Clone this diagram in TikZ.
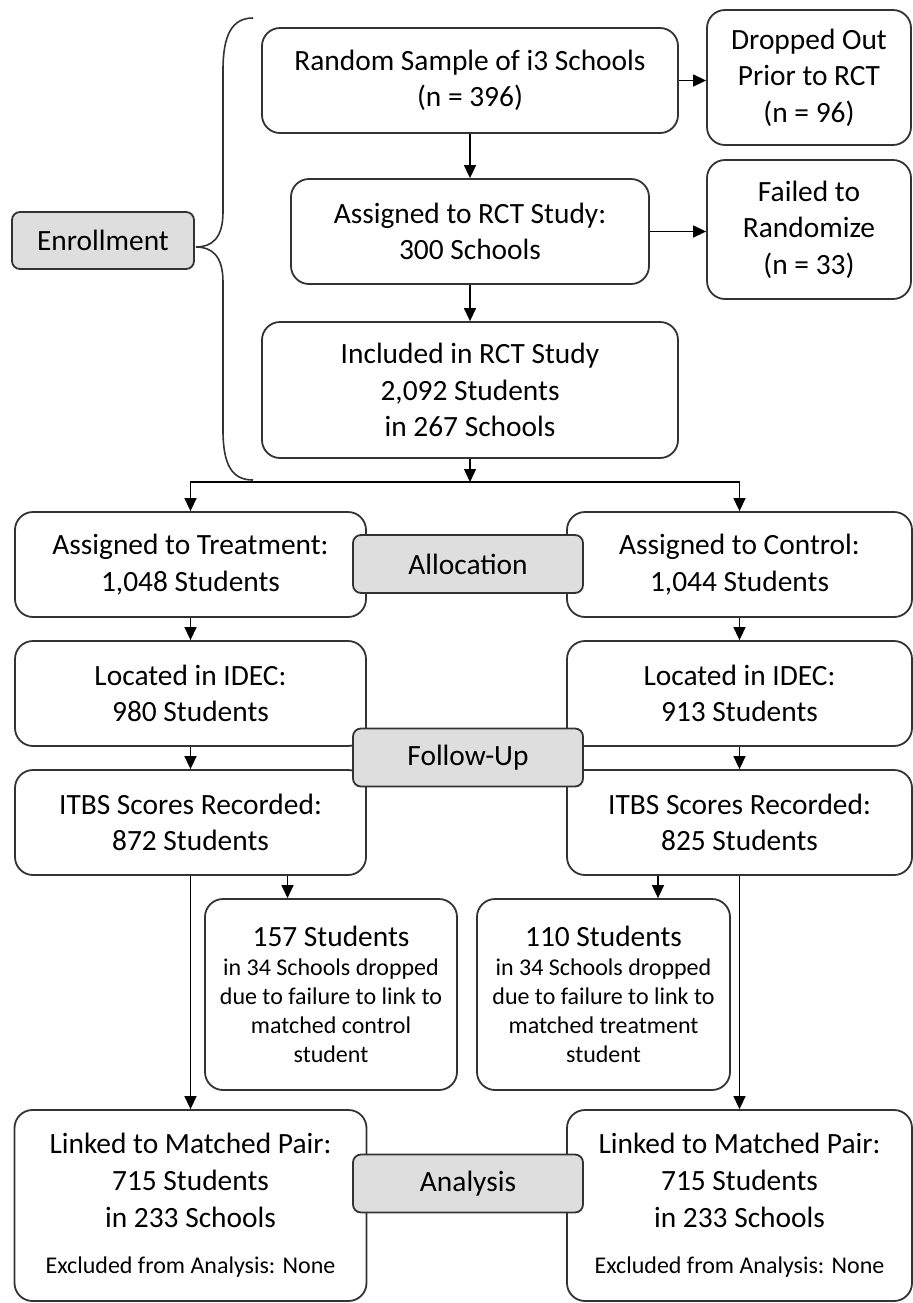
\documentclass[tikz,border=0pt]{standalone}
\usepackage{fontspec}
\setmainfont{Carlito}
\usetikzlibrary{arrows.meta,positioning,calc}

\begin{document}
\begin{tikzpicture}[x=0.5pt,y=-0.5pt,
  box/.style={draw=black!80,line width=0.9pt,rounded corners=9pt,align=center,inner sep=0pt,font=\fontsize{14.7}{18.3}\selectfont},
  phase/.style={draw=black!80,line width=0.9pt,rounded corners=4pt,fill=black!13,inner sep=0pt,font=\fontsize{14.7}{18.3}\selectfont,minimum width=115pt,minimum height=29pt},
  small/.style={font=\fontsize{12}{14.5}\selectfont},
  flow/.style={line width=0.7pt,-{Triangle[length=6.5pt,width=6pt]}}]
\useasboundingbox (0,0) rectangle (912,1303);

% enrollment
\node[box,minimum width=208pt,minimum height=52.5pt] (rand) at (470,80.5) {Random Sample of i3 Schools\\(n = 396)};
\node[box,minimum width=102pt,minimum height=67.5pt] (drop) at (809,77.5) {Dropped Out\\Prior to RCT\\(n = 96)};
\node[box,minimum width=179pt,minimum height=52.5pt] (rct) at (470,231.5) {Assigned to RCT Study:\\300 Schools};
\node[box,minimum width=102pt,minimum height=69.5pt] (fail) at (809,229.5) {Failed to\\Randomize\\(n = 33)};
\node[box,minimum width=208pt,minimum height=68pt] (incl) at (470,390) {Included in RCT Study\\2,092 Students\\in 267 Schools};
\draw[line width=0.8pt,black!80] (253,18) .. controls (232,18) and (223,35) .. (223,70) -- (223,212)
  .. controls (223,238) and (212,247) .. (196,247) .. controls (212,247) and (223,256) .. (223,282)
  -- (223,430) .. controls (223,465) and (232,480) .. (253,480);

\draw[flow] (rand.east) -- (rand.east -| drop.west);
\draw[flow] (rct.east) -- (rct.east -| fail.west);
\draw[flow] (rand.south) -- (rct.north);
\draw[flow] (rct.south) -- (incl.north);

% allocation
\node[box,minimum width=175.5pt,minimum height=52.5pt] (treat) at (190.5,564.5) {Assigned to Treatment:\\1,048 Students};
\node[box,minimum width=172.5pt,minimum height=52.5pt] (ctrl) at (739.5,564.5) {Assigned to Control:\\1,044 Students};
\coordinate (split) at (470,482);
\draw[flow] (incl.south) -- (split);
\draw[flow] (split) -| (treat.north);
\draw[flow] (split) -| (ctrl.north);

% follow-up
\node[box,minimum width=175.5pt,minimum height=52.5pt] (loct) at (190.5,693.5) {Located in IDEC:\\980 Students};
\node[box,minimum width=172.5pt,minimum height=52.5pt] (locc) at (739.5,693.5) {Located in IDEC:\\913 Students};
\node[box,minimum width=175.5pt,minimum height=52.5pt] (itbst) at (190.5,822.5) {ITBS Scores Recorded:\\872 Students};
\node[box,minimum width=172.5pt,minimum height=52.5pt] (itbsc) at (739.5,822.5) {ITBS Scores Recorded:\\825 Students};
\draw[flow] (treat.south) -- (loct.north);
\draw[flow] (ctrl.south) -- (locc.north);
\draw[flow] (loct.south) -- (itbst.north);
\draw[flow] (locc.south) -- (itbsc.north);

\node[box,small,minimum width=126pt,minimum height=95.5pt] (dropt) at (331,994.5) {{\fontsize{14.7}{16}\selectfont 157 Students}\\in 34 Schools dropped\\due to failure to link to\\matched control\\student};
\node[box,small,minimum width=126.5pt,minimum height=95.5pt] (dropc) at (603.5,994.5) {{\fontsize{14.7}{16}\selectfont 110 Students}\\in 34 Schools dropped\\due to failure to link to\\matched treatment\\student};
\draw[flow] ($(itbst.south)!0.55!(itbst.south east)$) coordinate (t1) -- (t1 |- dropt.north);
\draw[flow] ($(itbsc.south)!0.47!(itbsc.south west)$) coordinate (c1) -- (c1 |- dropc.north);

% analysis
\node[box,minimum width=176pt,minimum height=95.5pt] (linkt) at (190.5,1205.5) {Linked to Matched Pair:\\715 Students\\in 233 Schools\\[5pt]{\fontsize{12}{13}\selectfont Excluded from Analysis: None}};
\node[box,minimum width=172.5pt,minimum height=95.5pt] (linkc) at (739.5,1205.5) {Linked to Matched Pair:\\715 Students\\in 233 Schools\\[5pt]{\fontsize{12}{13}\selectfont Excluded from Analysis: None}};
\draw[flow] (itbst.south) -- (linkt.north);
\draw[flow] (itbsc.south) -- (linkc.north);

% phase labels
\node[box,fill=black!13,rounded corners=4pt,minimum width=91pt,minimum height=28.5pt] (enr) at (103,240.5) {Enrollment};
\node[phase] (alloc) at (468,564) {Allocation};
\node[phase] (follow) at (468,757.5) {Follow-Up};
\node[phase] (anal) at (468,1183.5) {Analysis};
\end{tikzpicture}
\end{document}
